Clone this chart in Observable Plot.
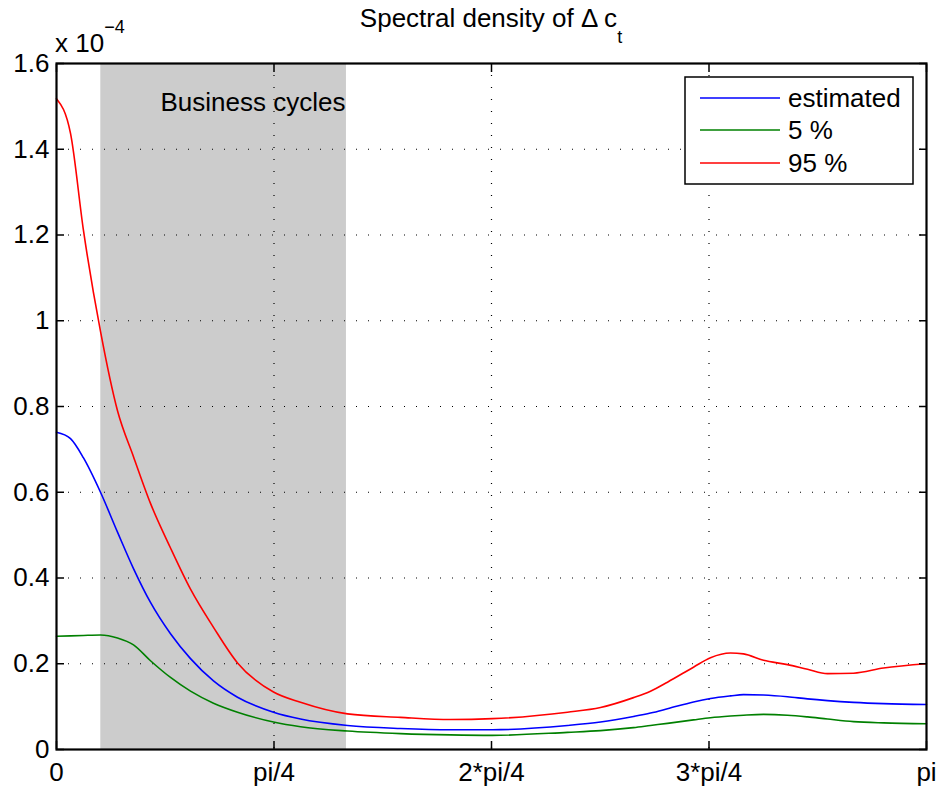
<!DOCTYPE html>
<html>
<head>
<meta charset="utf-8">
<script src="https://cdn.jsdelivr.net/npm/d3@7"></script>
<script src="https://cdn.jsdelivr.net/npm/@observablehq/plot@0.6"></script>
<style>
  html, body { margin: 0; padding: 0; background: #fff; }
  svg { display: block; }
</style>
</head>
<body>
<div id="chart"></div>
<script>
// Frequency (radians) at which the curves were read
const freq = [0, 0.0506, 0.0975, 0.1589, 0.2203, 0.2780, 0.3394, 0.4117, 0.4839, 0.5669, 0.6536, 0.7836, 0.8811, 1.0508, 1.2422, 1.4227, 1.5744, 1.8452, 1.9644, 2.0836, 2.1449, 2.2063, 2.3002, 2.3616, 2.4338, 2.4808, 2.5530, 2.6397, 2.7119, 2.7841, 2.8780, 2.9863, 3.1416];
// Spectral density values, in units of 1e-4
const estimated = [0.740, 0.725, 0.680, 0.600, 0.507, 0.422, 0.343, 0.270, 0.212, 0.160, 0.122, 0.087, 0.071, 0.056, 0.049, 0.046, 0.046, 0.056, 0.064, 0.077, 0.085, 0.095, 0.111, 0.119, 0.125, 0.128, 0.127, 0.123, 0.118, 0.114, 0.110, 0.107, 0.105];
const lower5 = [0.264, 0.265, 0.266, 0.267, 0.260, 0.244, 0.207, 0.168, 0.136, 0.108, 0.087, 0.064, 0.053, 0.043, 0.037, 0.034, 0.033, 0.040, 0.044, 0.051, 0.056, 0.061, 0.069, 0.074, 0.078, 0.080, 0.082, 0.080, 0.076, 0.071, 0.065, 0.062, 0.060];
const upper95 = [1.518, 1.437, 1.210, 0.975, 0.790, 0.683, 0.574, 0.470, 0.374, 0.285, 0.202, 0.134, 0.110, 0.083, 0.075, 0.070, 0.072, 0.087, 0.098, 0.121, 0.136, 0.157, 0.192, 0.214, 0.225, 0.223, 0.208, 0.198, 0.187, 0.177, 0.178, 0.190, 0.200];

const seriesNames = ["estimated", "5 %", "95 %"];
const seriesColors = ["#0000ff", "#008000", "#ff0000"];

// Business cycle band (radians)
const bcLow = 0.160;
const bcHigh = 1.047;

const xTicks = [0, 0.7854, 1.5708, 2.3562, 3.1416];
const xTickLabels = ["0", "pi/4", "2*pi/4", "3*pi/4", "pi"];
const yTicks = [0, 0.2, 0.4, 0.6, 0.8, 1, 1.2, 1.4, 1.6];
const yTickLabels = ["0", "0.2", "0.4", "0.6", "0.8", "1", "1.2", "1.4", "1.6"];

const rows = [];
[estimated, lower5, upper95].forEach((vals, k) => {
  vals.forEach((v, i) => rows.push({f: freq[i], v, s: seriesNames[k]}));
});

const W = 943, H = 793;
const font = "'Liberation Sans', Arial, Helvetica, sans-serif";
const dots = "1,11";

const plot = Plot.plot({
  width: W,
  height: H,
  marginLeft: 56,
  marginRight: 17,
  marginTop: 63,
  marginBottom: 44,
  style: {fontFamily: font, fontSize: "26px", background: "#fff", color: "#000"},
  x: {domain: [0, 3.1416]},
  y: {domain: [0, 1.6]},
  color: {domain: seriesNames, range: seriesColors},
  marks: [
    Plot.rect([{x1: bcLow, x2: bcHigh}], {x1: "x1", x2: "x2", fill: "#cccccc"}),
    Plot.gridX(xTicks.slice(1, -1), {stroke: "#000", strokeOpacity: 1, strokeWidth: 1.2, strokeDasharray: dots}),
    Plot.gridY(yTicks.slice(1, -1), {stroke: "#000", strokeOpacity: 1, strokeWidth: 1.2, strokeDasharray: dots}),
    Plot.text(["Business cycles"], {x: bcHigh, frameAnchor: "top", textAnchor: "end", dx: -1, dy: 29, fontSize: 26, fill: "#000"}),
    Plot.line(rows, {x: "f", y: "v", z: "s", stroke: "s", strokeWidth: 1.6, curve: "monotone-x"}),
    Plot.axisX(xTicks, {anchor: "bottom", tickSize: 0, tickPadding: 13, tickFormat: (d, i) => xTickLabels[i], label: null, fontSize: 26}),
    Plot.axisY(yTicks, {anchor: "left", tickSize: 0, tickPadding: 7, tickFormat: (d, i) => yTickLabels[i], label: null, fontSize: 26}),
    Plot.axisX(xTicks, {anchor: "bottom", tickSize: -8, tickFormat: () => "", label: null, strokeWidth: 1.5}),
    Plot.axisX(xTicks, {anchor: "top", tickSize: -8, tickFormat: () => "", label: null, strokeWidth: 1.5}),
    Plot.axisY(yTicks, {anchor: "left", tickSize: -8, tickFormat: () => "", label: null, strokeWidth: 1.5}),
    Plot.axisY(yTicks, {anchor: "right", tickSize: -8, tickFormat: () => "", label: null, strokeWidth: 1.5}),
    Plot.frame({stroke: "#000", strokeWidth: 2.2})
  ]
});

document.getElementById("chart").appendChild(plot);

const svg = d3.select(plot);

// Title with subscript
const title = svg.append("text")
  .attr("x", 491).attr("y", 27)
  .attr("text-anchor", "middle")
  .style("font-family", font).style("font-size", "26px").attr("fill", "#000");
title.append("tspan").text("Spectral density of \u0394 c");
title.append("tspan").attr("dy", 16).style("font-size", "18px").text("t");

// Exponent label
const ex = svg.append("text")
  .attr("x", 55).attr("y", 52)
  .attr("text-anchor", "start")
  .style("font-family", font).style("font-size", "26px").attr("fill", "#000");
ex.append("tspan").text("x 10");
ex.append("tspan").attr("dy", -19).style("font-size", "18px").text("\u22124");

// Legend
const lg = svg.append("g").attr("text-anchor", "start");
lg.append("rect").attr("x", 685).attr("y", 77).attr("width", 228).attr("height", 107)
  .attr("fill", "#fff").attr("stroke", "#000").attr("stroke-width", 1.5);
const rowY = [98, 130, 163];
seriesNames.forEach((name, i) => {
  lg.append("line").attr("x1", 700).attr("x2", 780).attr("y1", rowY[i]).attr("y2", rowY[i])
    .attr("stroke", seriesColors[i]).attr("stroke-width", 1.6);
  lg.append("text").attr("x", 788).attr("y", rowY[i] + 9).attr("text-anchor", "start")
    .style("font-family", font).style("font-size", "26px").attr("fill", "#000").text(name);
});
</script>
</body>
</html>
